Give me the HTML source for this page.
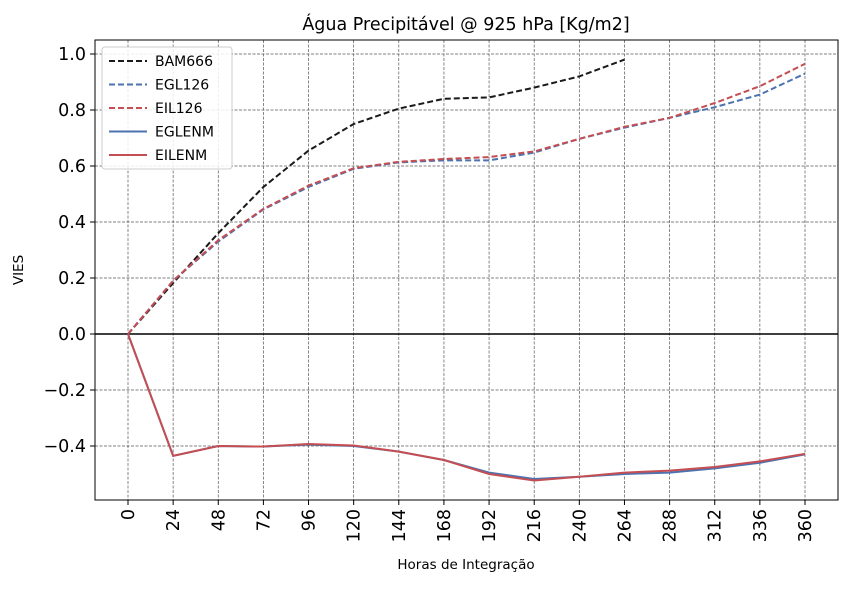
<!DOCTYPE html>
<html><head><meta charset="utf-8"><style>
body{margin:0;background:#fff;font-family:"DejaVu Sans","Liberation Sans",sans-serif}
</style></head><body>
<svg id="chart" width="849" height="585" xmlns="http://www.w3.org/2000/svg" font-family="DejaVu Sans, Liberation Sans, sans-serif"></svg>
<script>
const hours=[0,24,48,72,96,120,144,168,192,216,240,264,288,312,336,360];
const bam666=[0,0.182,0.36,0.525,0.655,0.75,0.805,0.84,0.845,0.88,0.92,0.98];
const egl126=[0,0.19,0.33,0.445,0.525,0.59,0.613,0.62,0.62,0.648,0.697,0.737,0.772,0.81,0.855,0.93];
const eil126=[0,0.19,0.335,0.447,0.53,0.592,0.615,0.625,0.632,0.652,0.697,0.74,0.772,0.825,0.885,0.965];
const eglenm=[0,-0.435,-0.4,-0.402,-0.395,-0.4,-0.42,-0.45,-0.495,-0.518,-0.51,-0.5,-0.495,-0.48,-0.46,-0.43];
const eilenm=[0,-0.435,-0.4,-0.402,-0.393,-0.398,-0.42,-0.45,-0.5,-0.523,-0.51,-0.495,-0.488,-0.475,-0.455,-0.428];
const yTicks=[-0.4,-0.2,0,0.2,0.4,0.6,0.8,1.0];
const yLabels=["\u22120.4","\u22120.2","0.0","0.2","0.4","0.6","0.8","1.0"];
const NS="http://www.w3.org/2000/svg";
const svg=document.getElementById('chart');
const L=95,R=838,T=40,B=500;
const X=h=>128+h*(805-128)/360;
const Y=v=>334-v*280;
function el(tag,attrs,parent){const e=document.createElementNS(NS,tag);for(const k in attrs)e.setAttribute(k,attrs[k]);(parent||svg).appendChild(e);return e;}
hours.forEach(h=>{const g=el('line',{x1:X(h),x2:X(h),y1:T,y2:B,stroke:'#555','stroke-width':0.7,'stroke-dasharray':'3,1.5'});

});
yTicks.forEach(v=>{const g=el('line',{x1:L,x2:R,y1:Y(v),y2:Y(v),stroke:'#555','stroke-width':0.7,'stroke-dasharray':'3,1.5'});

});
const zl=el('line',{x1:L,x2:R,y1:Y(0),y2:Y(0),stroke:'#000','stroke-width':1.5});


function series(data,color,dash,name){const p=el('polyline',{points:data.map((v,i)=>X(hours[i])+','+Y(v)).join(' '),fill:'none',stroke:color,'stroke-width':2,'stroke-dasharray':dash||''});

}
series(bam666,'#1a1a1a','6,3','bam666-line');
series(egl126,'#4c72b0','6,3','egl126-line');
series(eil126,'#c44e52','6,3','eil126-line');
series(eglenm,'#4c72b0','','eglenm-line');
series(eilenm,'#c44e52','','eilenm-line');
const fr=el('rect',{x:L,y:T,width:R-L,height:B-T,fill:'none',stroke:'#000','stroke-width':1});


hours.forEach(h=>{el('line',{x1:X(h),x2:X(h),y1:B,y2:B+5,stroke:'#000'});
const t=el('text',{x:0,y:0,'font-size':17.5,'text-anchor':'end',transform:`translate(${X(h)+6},${B+9}) rotate(-90)`});t.textContent=h;

});
yTicks.forEach((v,i)=>{el('line',{x1:L-5,x2:L,y1:Y(v),y2:Y(v),stroke:'#000'});
const t=el('text',{x:L-9,y:Y(v)+6,'font-size':17.5,'text-anchor':'end'});t.textContent=yLabels[i];

});
const tt=el('text',{x:466,y:30,'font-size':17.5,'text-anchor':'middle'});tt.textContent='Água Precipitável @ 925 hPa [Kg/m2]';


const xt=el('text',{x:466,y:569,'font-size':13.5,'text-anchor':'middle'});xt.textContent='Horas de Integração';


const yt=el('text',{x:0,y:0,'font-size':13.5,'text-anchor':'middle',transform:'translate(23,270) rotate(-90)'});yt.textContent='VIES';


const lg=el('g',{});


el('rect',{x:102,y:47,width:130,height:122,rx:3,fill:'#fff','fill-opacity':0.85,stroke:'#ccc'},lg);
const names=['BAM666','EGL126','EIL126','EGLENM','EILENM'];
const cols=['#1a1a1a','#4c72b0','#c44e52','#4c72b0','#c44e52'];
const dashes=['6,3','6,3','6,3','',''];
names.forEach((n,i)=>{const y=61+i*23.5;
const g=el('g',{},lg);


el('line',{x1:109,x2:147,y1:y,y2:y,stroke:cols[i],'stroke-width':2,'stroke-dasharray':dashes[i]},g);
const t=el('text',{x:155,y:y+5,'font-size':14},g);t.textContent=n;});
</script>
</body></html>
